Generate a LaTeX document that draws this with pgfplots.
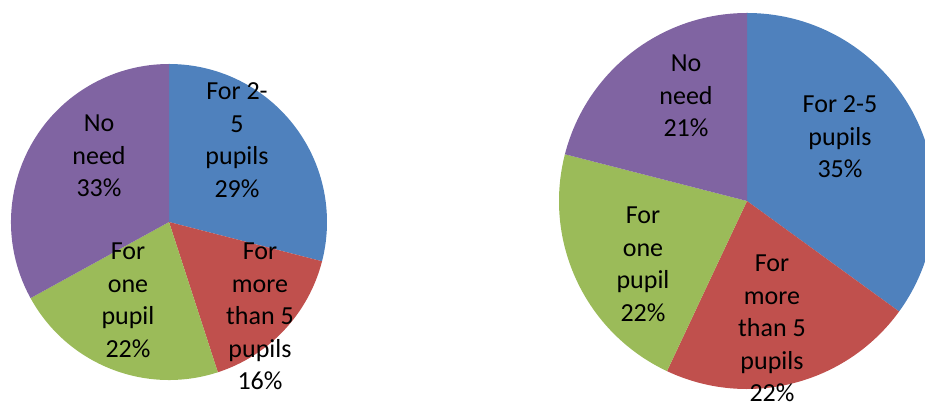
\documentclass[border=0pt]{standalone}
\usepackage{pgfplots}
\pgfplotsset{compat=1.18}
\usepackage{fontspec}
\setmainfont{Carlito}

\definecolor{sblue}{HTML}{4F81BD}
\definecolor{sred}{HTML}{C0504D}
\definecolor{sgreen}{HTML}{9BBB59}
\definecolor{spurple}{HTML}{8064A2}

% slice: centre x, centre y, radius, cumulative % before, %, colour
\newcommand\slice[6]{%
  \fill[#6] (axis cs:#1,#2) -- ++({90-3.6*#4}:#3pt)
    arc[start angle={90-3.6*#4}, delta angle={-3.6*#5}, radius=#3pt] -- cycle;}

% label lines, x, first baseline (from top), lines
\newcommand\lbl[3]{%
  \foreach \t [count=\i from 0] in {#3}
    \node[anchor=base, inner sep=0pt] at (#1pt,{403pt-#2pt-32.5pt*\i}) {\t};}

\begin{document}
\begin{tikzpicture}
\path[use as bounding box] (0,0) rectangle (925pt,403pt);
\clip (0,0) rectangle (925pt,403pt);
\begin{axis}[
  at={(0,0)}, anchor=south west,
  width=925pt, height=403pt, scale only axis,
  xmin=0, xmax=925, ymin=0, ymax=403,
  hide axis, clip=false,
]
% left pie: 29, 16, 22, 33
\slice{169}{181}{158}{0}{29}{sblue}
\slice{169}{181}{158}{29}{16}{sred}
\slice{169}{181}{158}{45}{22}{sgreen}
\slice{169}{181}{158}{67}{33}{spurple}
% right pie: 35, 22, 22, 21
\slice{747}{202}{188}{0}{35}{sblue}
\slice{747}{202}{188}{35}{22}{sred}
\slice{747}{202}{188}{57}{22}{sgreen}
\slice{747}{202}{188}{79}{21}{spurple}
\end{axis}
\fontsize{26}{32.5}\selectfont
\lbl{237}{100}{For 2-,5,pupils,29\%}
\lbl{260}{260}{For,more,than 5,pupils,16\%}
\lbl{128}{260}{For,one,pupil,22\%}
\lbl{99}{132}{No,need,33\%}
\lbl{840}{113}{For 2-5,pupils,35\%}
\lbl{772}{272}{For,more,than 5,pupils,22\%}
\lbl{643}{224}{For,one,pupil,22\%}
\lbl{686}{72}{No,need,21\%}
\end{tikzpicture}
\end{document}
